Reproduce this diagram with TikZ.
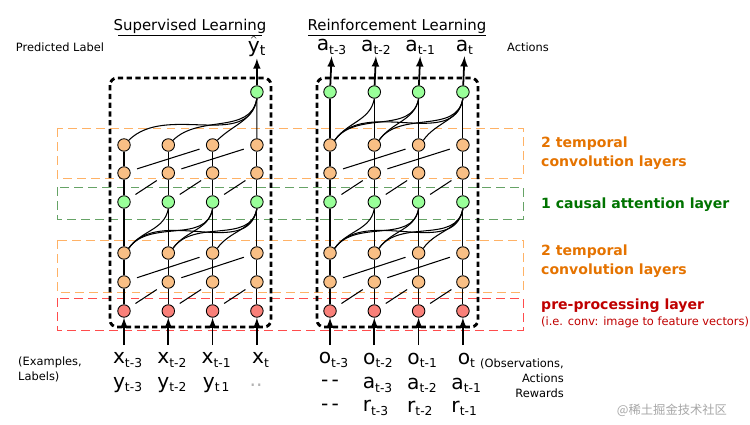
\documentclass[tikz,border=0pt]{standalone}
\usepackage{fontspec}
\setmainfont{DejaVu Sans}
\newfontfamily\cjk{Noto Sans CJK SC}
\begin{document}
\begin{tikzpicture}[x=0.02cm,y=-0.02cm,
  nd/.style={circle,draw,line width=0.5pt,minimum size=0.25cm,inner sep=0pt},
  og/.style={nd,fill=orange!45!white!90!brown},
  gn/.style={nd,fill=green!40},
  rd/.style={nd,fill=red!50!white!90!brown},
  ln/.style={line width=0.6pt},
  dg/.style={ln,shorten <=4pt,shorten >=4pt},
  box/.style={line width=1.6pt,dash pattern=on 3pt off 2pt,rounded corners=4pt},
  band/.style={dash pattern=on 5pt off 3pt,line width=0.5pt},
  arr/.style={-latex,line width=1pt},
  lbl/.style={font=\fontsize{6.5}{8.5}\selectfont},
  rl/.style={anchor=west,align=left,font=\bfseries\fontsize{8}{10.5}\selectfont},
  big/.style={font=\fontsize{11.5}{13}\selectfont,inner sep=1pt}]
\useasboundingbox (0,0) rectangle (750,425);
% bands
\draw[band,orange!60] (57,128) rectangle (523,178);
\draw[band,green!40!black!60] (57,187) rectangle (523,219);
\draw[band,orange!60] (57,240) rectangle (523,292);
\draw[band,red!70] (57,298) rectangle (523,330);
% networks
\foreach \net/\xs in {L/124,R/330}{
  \foreach \i in {1,...,4}{
    \pgfmathsetmacro\xx{\xs+(\i-1)*44.3}
    \node[rd] (\net r\i) at (\xx,311) {};
    \node[og] (\net a\i) at (\xx,282) {};
    \node[og] (\net b\i) at (\xx,253) {};
    \node[gn] (\net g\i) at (\xx,202) {};
    \node[og] (\net c\i) at (\xx,173) {};
    \node[og] (\net d\i) at (\xx,145) {};
    \draw[ln] (\net r\i)--(\net a\i) (\net a\i)--(\net b\i) (\net b\i)--(\net g\i) (\net g\i)--(\net c\i) (\net c\i)--(\net d\i);
  }
  \foreach \i/\j in {1/2,2/3,3/4}{
    \draw[dg] (\net r\i)--(\net a\j);
    \draw[dg] (\net g\i)--(\net c\j);
  }
  \foreach \i/\j in {1/3,2/4}{
    \draw[dg] (\net a\i)--(\net b\j);
    \draw[dg] (\net c\i)--(\net d\j);
  }
  \foreach \j in {2,3,4}{
    \pgfmathtruncatemacro\jm{\j-1}
    \foreach \i in {1,...,\jm}{
      \draw[ln] (\net b\i.north east) to[out=55,in=-100] (\net g\j.south);
    }
  }
}
\node[gn] (Lt4) at (256.9,92) {};
\draw[ln] (Ld4)--(Lt4);
\foreach \i in {1,2,3}{\draw[ln] (Ld\i.north east) to[out=45,in=-100] (Lt4.south);}
\foreach \i in {1,...,4}{
  \pgfmathsetmacro\xx{330+(\i-1)*44.3}
  \node[gn] (Rt\i) at (\xx,92) {};
  \draw[ln] (Rd\i)--(Rt\i);
}
\foreach \j in {2,3,4}{
  \pgfmathtruncatemacro\jm{\j-1}
  \foreach \i in {1,...,\jm}{\draw[ln] (Rd\i.north east) to[out=55,in=-100] (Rt\j.south);}
}
\draw[box] (110,78) rectangle (271,327);
\draw[box] (317,78) rectangle (478,327);
% titles
\node[font=\fontsize{8.5}{10}\selectfont] (tl) at (190,26) {Supervised Learning};
\draw[line width=0.4pt] (118,35)--(262,35);
\node[font=\fontsize{8.5}{10}\selectfont] (tr) at (397,26) {Reinforcement Learning};
\draw[line width=0.4pt] (308,35)--(486,35);
\node[lbl] (pl) at (60,47) {Predicted Label};
\node[lbl] (ac) at (528,47) {Actions};
% outputs
\node[big] (yh) at (257,46) {$\hat{\mathrm{y}}_{\mathrm{t}}$};
\draw[arr] (Lt4)--(Lt4 |- yh.south);
\foreach \i/\s in {1/t-3,2/t-2,3/t-1,4/t}{
  \pgfmathsetmacro\xx{332+(\i-1)*44.3}
  \node[big] (oa\i) at (\xx,47) {a\textsubscript{\fontsize{7}{8}\selectfont \s}};
  \draw[arr] (Rt\i)--(oa\i);
}
% inputs
\foreach \i/\s in {1/t-3,2/t-2,3/t-1,4/t}{
  \pgfmathsetmacro\xx{128+(\i-1)*44.3}
  \pgfmathsetmacro\xo{334+(\i-1)*44.3}
  \node[big] (x\i) at (\xx,360) {x\textsubscript{\fontsize{7}{8}\selectfont \s}};
  \node[big] (o\i) at (\xo,360) {o\textsubscript{\fontsize{7}{8}\selectfont \s}};
  \coordinate (xl\i) at (\xx-4,345);
  \coordinate (ol\i) at (\xo-4,345);
  \draw[arr] (xl\i)--(Lr\i);
  \draw[arr] (ol\i)--(Rr\i);
}
\foreach \i/\s in {1/t-3,2/t-2,3/t\,1}{
  \pgfmathsetmacro\xx{128+(\i-1)*44.3}
  \node[big] (y\i) at (\xx,385) {y\textsubscript{\fontsize{7}{8}\selectfont \s}};
}
\node[big] (y4) at (256,385) {\textcolor{black!30}{..}};
\node[big] (a1) at (330,383) {-\,-};
\node[big] (r1) at (330,407) {-\,-};
\foreach \i/\s/\r in {2/t-3/t-3,3/t-2/t-2,4/t-1/t-1}{
  \pgfmathsetmacro\xx{378+(\i-2)*44.3}
  \node[big] (a\i) at (\xx,385) {a\textsubscript{\fontsize{7}{8}\selectfont \s}};
  \node[big] (r\i) at (\xx-2,408) {r\textsubscript{\fontsize{7}{8}\selectfont \r}};
}
\node[lbl,align=left] (ex) at (50,369) {(Examples,\\ Labels)};
\node[lbl,align=right,anchor=east] (obs) at (570,378) {(Observations,\\Actions\\Rewards};
% right labels
\node[rl,text=orange!90!black] (l1) at (535,153) {2 temporal\\convolution layers};
\node[rl,text=green!45!black] (l2) at (535,205) {1 causal attention layer};
\node[rl,text=orange!90!black] (l3) at (535,261) {2 temporal\\convolution layers};
\node[rl,text=red!75!black] (l4) at (535,306) {pre-processing layer};
\node[lbl,anchor=west,text=red!75!black] (l5) at (535,322) {(i.e. conv: image to feature vectors)};
\node[lbl,text=black!35,font=\cjk\fontsize{7}{8}\selectfont] (wm) at (672,410) {@稀土掘金技术社区};
\end{tikzpicture}
\end{document}
